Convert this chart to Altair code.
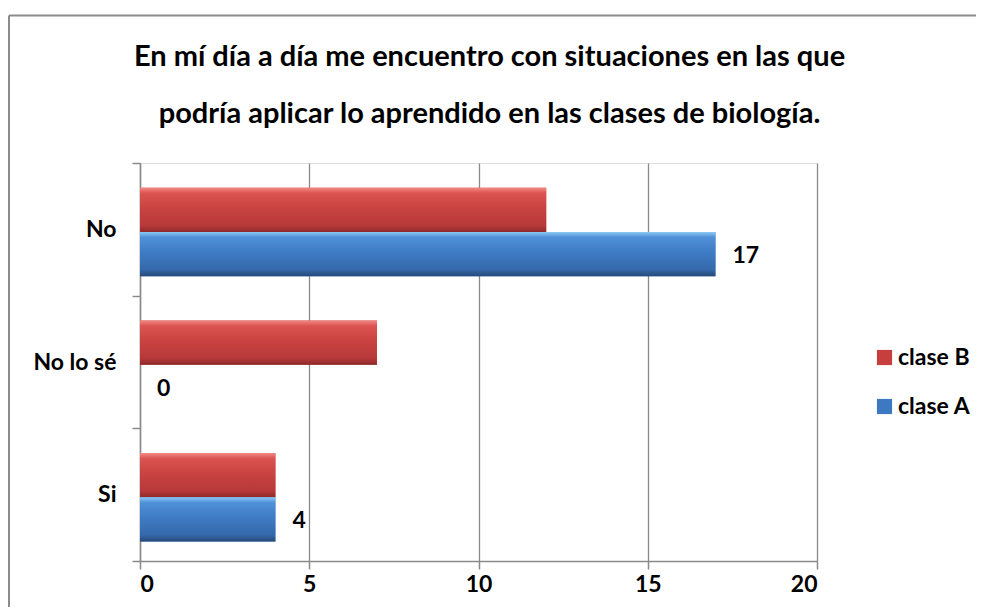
import altair as alt
import pandas as pd

categories = ["No", "No lo sé", "Si"]
series = ["clase B", "clase A"]
clase_B = [12, 7, 4]
clase_A = [17, 0, 4]
x_ticks = [0, 5, 10, 15, 20]
title_lines = [
    "En mí día a día me encuentro con situaciones en las que",
    "podría aplicar lo aprendido en las clases de biología.",
]

rows = []
for c, b, a in zip(categories, clase_B, clase_A):
    rows.append({"cat": c, "serie": "clase B", "valor": b})
    rows.append({"cat": c, "serie": "clase A", "valor": a})
df = pd.DataFrame(rows)

FONT = "Lato"
FS = 23
RED = "#c63f3d"
BLUE = "#3d79c2"

red_grad = alt.Gradient(
    gradient="linear", x1=0, x2=0, y1=0, y2=1,
    stops=[
        alt.GradientStop(color="#f38a86", offset=0),
        alt.GradientStop(color="#db5452", offset=0.12),
        alt.GradientStop(color="#c94341", offset=0.45),
        alt.GradientStop(color="#b8393a", offset=0.85),
        alt.GradientStop(color="#8e2a2a", offset=1),
    ],
)
blue_grad = alt.Gradient(
    gradient="linear", x1=0, x2=0, y1=0, y2=1,
    stops=[
        alt.GradientStop(color="#8cc8f7", offset=0),
        alt.GradientStop(color="#4f91d8", offset=0.12),
        alt.GradientStop(color="#3f7cc6", offset=0.45),
        alt.GradientStop(color="#3569ab", offset=0.85),
        alt.GradientStop(color="#26497a", offset=1),
    ],
)

y_enc = alt.Y(
    "cat:N",
    sort=categories,
    title=None,
    scale=alt.Scale(paddingInner=0, paddingOuter=0),
    axis=alt.Axis(
        tickBand="extent",
        labelFont=FONT, labelFontSize=FS, labelFontWeight="bold",
        labelColor="black", labelPadding=16,
        domainColor="#8a8a8a", domainWidth=1.5,
        tickColor="#8a8a8a", tickWidth=1.5, tickSize=8,
        grid=False,
    ),
)
x_enc = alt.X(
    "valor:Q",
    title=None,
    scale=alt.Scale(domain=[0, 20], nice=False),
    axis=alt.Axis(
        values=x_ticks,
        labelFont=FONT, labelFontSize=FS, labelFontWeight="bold",
        labelColor="black", labelPadding=4,
        domainColor="#8a8a8a", domainWidth=1.5,
        tickColor="#8a8a8a", tickWidth=1.5, tickSize=8,
        grid=True, gridColor="#8a8a8a", gridWidth=1.3,
    ),
)
yoff = alt.YOffset(
    "serie:N", sort=series,
    scale=alt.Scale(domain=series, paddingInner=0, paddingOuter=0.5, align=0.56),
)

base = alt.Chart(df)

bars = base.mark_bar().encode(
    y=y_enc,
    x=x_enc,
    yOffset=yoff,
    color=alt.Color(
        "serie:N",
        scale=alt.Scale(domain=series, range=[RED, BLUE]),
        legend=alt.Legend(
            title=None, orient="none", legendX=733, legendY=183,
            symbolType="square", symbolSize=230, symbolStrokeWidth=0,
            labelFont=FONT, labelFontSize=FS, labelFontWeight="bold",
            labelColor="black", rowPadding=25, labelOffset=2,
        ),
    ),
)

red_bars = base.mark_bar(fill=red_grad).encode(
    y=alt.Y("cat:N", sort=categories), x="valor:Q", yOffset=yoff
).transform_filter(alt.datum.serie == "clase B")

blue_bars = base.mark_bar(fill=blue_grad).encode(
    y=alt.Y("cat:N", sort=categories), x="valor:Q", yOffset=yoff
).transform_filter(alt.datum.serie == "clase A")

labels = base.mark_text(
    align="left", baseline="middle", dx=17, dy=2,
    font=FONT, fontSize=FS, fontWeight="bold", color="black",
).encode(
    y=alt.Y("cat:N", sort=categories), x="valor:Q", yOffset=yoff,
    text="valor:Q",
).transform_filter(alt.datum.serie == "clase A")

frame_df = pd.DataFrame({"k": [0]})
frame_top = alt.Chart(frame_df).mark_rule(color="#8c8c8c", strokeWidth=2).encode(
    x=alt.value(-131), x2=alt.value(844), y=alt.value(-147.5)
)
frame_left = alt.Chart(frame_df).mark_rule(color="#8c8c8c", strokeWidth=2).encode(
    x=alt.value(-131), y=alt.value(-147.5), y2=alt.value(460)
)

chart = alt.layer(bars, red_bars, blue_bars, labels, frame_top, frame_left).properties(
    width=677,
    height=398,
    padding={"left": 132, "top": 155, "right": 159, "bottom": 46},
    autosize=alt.AutoSizeParams(type="none"),
    title=alt.TitleParams(
        text=title_lines,
        font=FONT, fontSize=29, fontWeight="bold", color="black",
        anchor="middle", dx=11, offset=36, dy=150, lineHeight=57,
    ),
).configure_view(
    fill="#dfe6f1", stroke=None
).configure(background="white")

chart.save("out.html", embed_options={"renderer": "svg", "actions": False})
